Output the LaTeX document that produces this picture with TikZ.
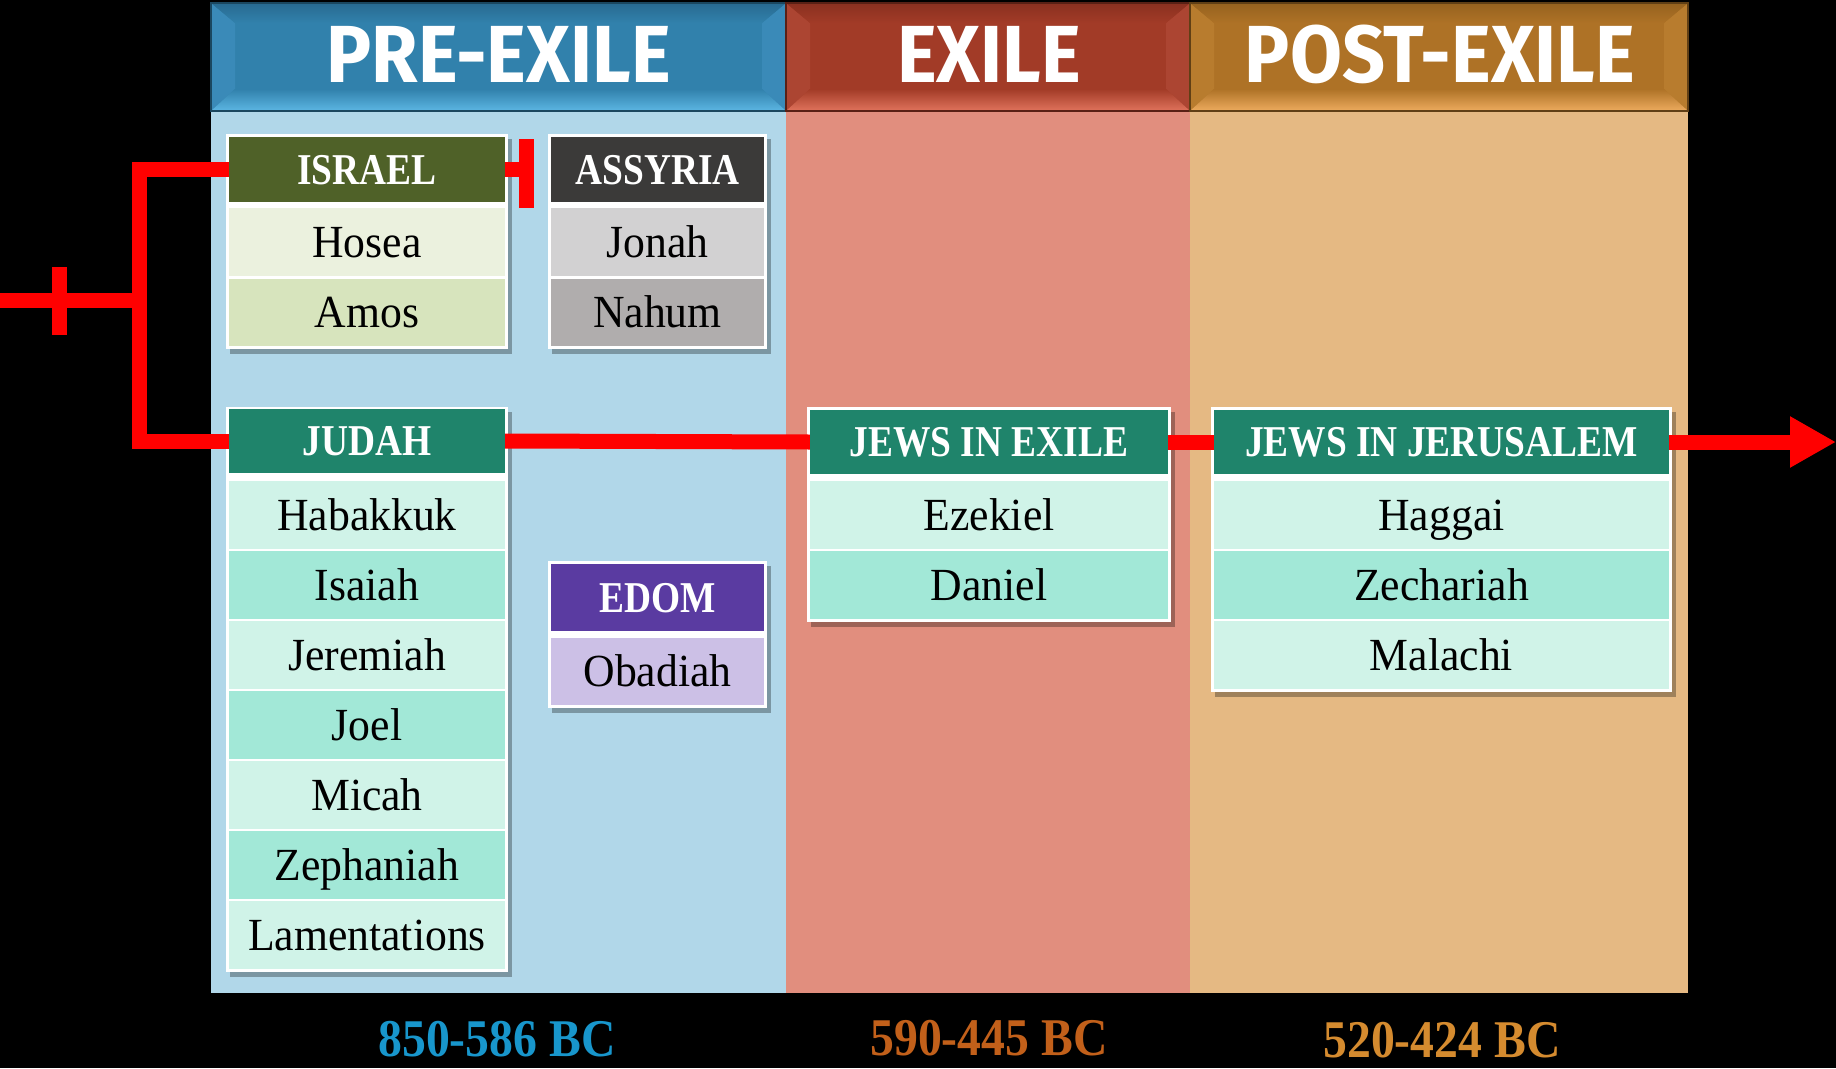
\documentclass[tikz,border=0pt]{standalone}
\usepackage{fontspec}
\usetikzlibrary{arrows.meta,shadows}
\newfontfamily\titlefont{Fira Sans}[FakeStretch=0.93]
\newfontfamily\hdrfont{Liberation Serif}[FakeStretch=0.85]
\newfontfamily\cellfont{Liberation Serif}[FakeStretch=0.95]
\newfontfamily\datefont{Liberation Serif}[FakeStretch=0.9]

\definecolor{colblue}{HTML}{B1D7E9}
\definecolor{colred}{HTML}{E18E7E}
\definecolor{coltan}{HTML}{E5B983}
\definecolor{prebase}{HTML}{3181AC}
\definecolor{predark}{HTML}{286A90}
\definecolor{prelight}{HTML}{5CB6E3}
\definecolor{preside}{HTML}{3A8AB8}
\definecolor{exbase}{HTML}{A23B27}
\definecolor{exdark}{HTML}{8A3020}
\definecolor{exlight}{HTML}{E0735C}
\definecolor{exside}{HTML}{AC4532}
\definecolor{pobase}{HTML}{AE7226}
\definecolor{podark}{HTML}{96621F}
\definecolor{polight}{HTML}{EDAB5E}
\definecolor{poside}{HTML}{B87C2E}
\definecolor{israelc}{HTML}{4F6128}
\definecolor{israelA}{HTML}{EBF1DE}
\definecolor{israelB}{HTML}{D7E4BD}
\definecolor{assyriac}{HTML}{3B3A39}
\definecolor{assyriaA}{HTML}{D2D1D2}
\definecolor{assyriaB}{HTML}{B0ADAD}
\definecolor{judahc}{HTML}{1F846B}
\definecolor{judahA}{HTML}{D0F3E8}
\definecolor{judahB}{HTML}{A2E8D7}
\definecolor{edomc}{HTML}{5A3BA1}
\definecolor{edomA}{HTML}{CCC0E6}
\definecolor{datblue}{HTML}{1896CC}
\definecolor{datorange}{HTML}{C2601A}
\definecolor{dattan}{HTML}{D58B2F}

\newcommand{\bevelhdr}[6]{%
  \fill[#3] (#1,3) rectangle (#2,111);
  \fill[#6] (#1,3) -- (#1+24,23) -- (#1+24,89) -- (#1,111) -- cycle;
  \fill[#6] (#2,3) -- (#2-24,23) -- (#2-24,89) -- (#2,111) -- cycle;
  \shade[top color=#4, bottom color=#3] (#1,3) -- (#2,3) -- (#2-24,23) -- (#1+24,23) -- cycle;
  \shade[top color=#3, bottom color=#5] (#1+24,89) -- (#2-24,89) -- (#2,111) -- (#1,111) -- cycle;
  \draw[#3!55!black, line width=2pt] (#1,3) rectangle (#2,111);
}

\tikzset{
  titletext/.style={inner sep=0pt, text=white, font=\titlefont\bfseries\fontsize{81}{81}\selectfont, text height=56pt, text depth=0pt},
  hcell/.style={inner sep=0pt, text=white, font=\hdrfont\bfseries\fontsize{44}{44}\selectfont, text height=29pt, text depth=0pt},
  bcell/.style={inner sep=0pt, text=black, font=\cellfont\fontsize{46}{46}\selectfont, text height=30pt, text depth=0pt},
  datetext/.style={inner sep=0pt, font=\datefont\bfseries\fontsize{53}{53}\selectfont, text height=35pt, text depth=0pt},
  boxframe/.style={fill=white, drop shadow={shadow xshift=4pt, shadow yshift=-5pt, opacity=0.3, fill=black}},
  redline/.style={draw=red, line width=15pt, line join=miter},
}

\begin{document}
\begin{tikzpicture}[x=1pt, y=-1pt]
\useasboundingbox (0,0) rectangle (1836,1068);
\fill[black] (0,0) rectangle (1836,1068);

% columns
\fill[colblue] (211,111) rectangle (786,993);
\fill[colred] (786,111) rectangle (1190,993);
\fill[coltan] (1190,111) rectangle (1688,993);

% headers
\bevelhdr{211}{786}{prebase}{predark}{prelight}{preside}
\bevelhdr{786}{1190}{exbase}{exdark}{exlight}{exside}
\bevelhdr{1190}{1688}{pobase}{podark}{polight}{poside}
\node[titletext] (tpre) at (498.5,54) {PRE-EXILE};
\node[titletext] (tex) at (989,54) {EXILE};
\node[titletext] (tpost) at (1440,54) {POST-EXILE};

% box frames
\path[boxframe] (226,134) rectangle (508,349);
\path[boxframe] (548,134) rectangle (767,349);
\path[boxframe] (226,407) rectangle (508,972);
\path[boxframe] (548,561) rectangle (767,708);
\path[boxframe] (807,407) rectangle (1171,622);
\path[boxframe] (1211,407) rectangle (1672,692);

% Israel
\node[hcell, fill=israelc, minimum width=276pt, minimum height=65pt] (israel) at (367,169.5) {ISRAEL};
\node[bcell, fill=israelA, minimum width=276pt, minimum height=68pt] (hosea) at (367,242) {Hosea};
\node[bcell, fill=israelB, minimum width=276pt, minimum height=67pt] (amos) at (367,312.5) {Amos};

% Assyria
\node[hcell, fill=assyriac, minimum width=213pt, minimum height=65pt] (assyria) at (657.5,169.5) {ASSYRIA};
\node[bcell, fill=assyriaA, minimum width=213pt, minimum height=68pt] (jonah) at (657.5,242) {Jonah};
\node[bcell, fill=assyriaB, minimum width=213pt, minimum height=67pt] (nahum) at (657.5,312.5) {Nahum};

% Judah
\node[hcell, fill=judahc, minimum width=276pt, minimum height=64pt] (judah) at (367,441) {JUDAH};
\node[bcell, fill=judahA, minimum width=276pt, minimum height=68pt] (habakkuk) at (367,515) {Habakkuk};
\node[bcell, fill=judahB, minimum width=276pt, minimum height=68pt] (isaiah) at (367,585) {Isaiah};
\node[bcell, fill=judahA, minimum width=276pt, minimum height=68pt] (jeremiah) at (367,655) {Jeremiah};
\node[bcell, fill=judahB, minimum width=276pt, minimum height=68pt] (joel) at (367,725) {Joel};
\node[bcell, fill=judahA, minimum width=276pt, minimum height=68pt] (micah) at (367,795) {Micah};
\node[bcell, fill=judahB, minimum width=276pt, minimum height=68pt] (zephaniah) at (367,865) {Zephaniah};
\node[bcell, fill=judahA, minimum width=276pt, minimum height=68pt] (lamentations) at (367,935) {Lamentations};

% Edom
\node[hcell, fill=edomc, minimum width=213pt, minimum height=67pt] (edom) at (657.5,597.5) {EDOM};
\node[bcell, fill=edomA, minimum width=213pt, minimum height=67pt] (obadiah) at (657.5,671.5) {Obadiah};

% Jews in exile
\node[hcell, fill=judahc, minimum width=358pt, minimum height=64pt] (exile) at (989,442) {JEWS IN EXILE};
\node[bcell, fill=judahA, minimum width=358pt, minimum height=68pt] (ezekiel) at (989,515) {Ezekiel};
\node[bcell, fill=judahB, minimum width=358pt, minimum height=68pt] (daniel) at (989,585) {Daniel};

% Jews in Jerusalem
\node[hcell, fill=judahc, minimum width=455pt, minimum height=64pt] (jeru) at (1441.5,442) {JEWS IN JERUSALEM};
\node[bcell, fill=judahA, minimum width=455pt, minimum height=68pt] (haggai) at (1441.5,515) {Haggai};
\node[bcell, fill=judahB, minimum width=455pt, minimum height=68pt] (zechariah) at (1441.5,585) {Zechariah};
\node[bcell, fill=judahA, minimum width=455pt, minimum height=68pt] (malachi) at (1441.5,655) {Malachi};

% red connectors
\coordinate (start) at (0,300);
\coordinate (fork) at (139,300);
\coordinate (tickT) at (59.5,267);
\coordinate (tickB) at (59.5,335);
\coordinate (barT) at (526.5,139);
\coordinate (barB) at (526.5,208);
\coordinate (barM) at (526.5,169.5);
\coordinate (arrowEnd) at (1836,442);
\draw[redline] (start) -- (fork);
\draw[redline] (tickT) -- (tickB);
\draw[redline] (israel.west) -| (fork) |- (judah.west);
\draw[redline] (israel.east) -- (barM);
\draw[redline] (barT) -- (barB);
\draw[redline] (judah.east) -- (exile.west);
\draw[redline] (exile.east) -- (jeru.west);
\draw[redline, -{Triangle[length=46pt,width=48pt]}] (jeru.east) -- (arrowEnd);

% dates
\node[datetext, text=datblue] (d1) at (497,1039) {850-586 BC};
\node[datetext, text=datorange] (d2) at (989,1038) {590-445 BC};
\node[datetext, text=dattan] (d3) at (1442,1040) {520-424 BC};
\end{tikzpicture}
\end{document}
